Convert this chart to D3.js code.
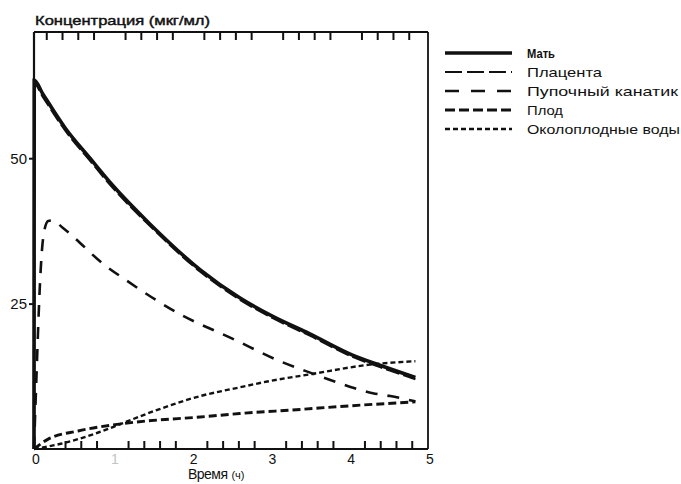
<!DOCTYPE html>
<html>
<head>
<meta charset="utf-8">
<script src="https://cdn.jsdelivr.net/npm/d3@7"></script>
<style>
  body { margin: 0; background: #fff; }
  text { font-family: Arial, "Liberation Sans", sans-serif; fill: #111; }
</style>
</head>
<body>
<svg id="chart" width="681" height="484"></svg>
<script>
// Drug concentration over time in mother and fetal compartments
const seriesNames = ["Мать", "Плацента", "Пупочный канатик", "Плод", "Околоплодные воды"];

// time (h) and concentration (µg/ml) for each compartment
const motherT = [0, 0.003, 0.11, 0.4, 0.71, 1.0, 1.47, 2.11, 2.61, 3.03, 3.5, 4.05, 4.39, 4.84];
const motherV = [0, 63.4, 61.1, 55.1, 50.0, 45.3, 38.7, 30.8, 26.0, 22.8, 19.8, 16.1, 14.4, 12.3];

const placentaT = [0, 0.003, 0.11, 0.4, 0.71, 1.0, 1.47, 2.11, 2.61, 3.03, 3.5, 4.05, 4.39, 4.84];
const placentaV = [0, 62.8, 60.6, 54.7, 49.6, 44.9, 38.4, 30.5, 25.7, 22.5, 19.5, 15.8, 14.1, 12.0];

const cordT = [0, 0.03, 0.076, 0.10, 0.13, 0.18, 0.23, 0.36, 0.49, 0.88, 1.15, 1.85, 2.53, 3.12, 3.53, 3.88, 4.3, 4.52, 4.84];
const cordV = [0, 12, 28.5, 34, 37.5, 39.2, 39.3, 38.1, 36.6, 31.8, 29.2, 23.2, 18.9, 15.1, 13.0, 11.3, 9.6, 9.1, 8.2];

const fetusT = [0, 0.18, 0.56, 0.98, 1.42, 2.11, 2.61, 3.38, 3.88, 4.84];
const fetusV = [0, 1.7, 3.1, 4.1, 4.8, 5.5, 6.1, 6.8, 7.3, 8.1];

const amnioticT = [0, 0.34, 0.77, 1.1, 1.42, 2.11, 2.61, 2.96, 3.53, 4.26, 4.84];
const amnioticV = [0, 0.9, 2.6, 4.3, 6.0, 9.1, 10.6, 11.6, 12.9, 14.5, 15.1];

const xTickLabels = ["0", "1", "2", "3", "4", "5"];
const yTickValues = [25, 50];
const yTickLabels = ["25", "50"];

const yTitle = "Концентрация (мкг/мл)";
const xTitle = "Время";
const xUnit = "(ч)";

const svg = d3.select("#chart");

const x = d3.scaleLinear().domain([0, 5]).range([34, 428]);
const y = d3.scaleLinear().domain([0, 71.7]).range([449, 32]);
const yTop = y.range()[1];

// line styles per compartment
const styles = [
  { width: 3.6, dash: null },
  { width: 2.2, dash: "14,4" },
  { width: 2.6, dash: "12,10" },
  { width: 2.9, dash: "8,4" },
  { width: 2.4, dash: "5,3" }
];
const legendDash = [null, "17,5", "14,12", "10,4", "5,3"];
const legendWidth = [3.4, 2.2, 2.5, 3, 2.4];

const series = [
  { t: motherT, v: motherV },
  { t: placentaT, v: placentaV },
  { t: cordT, v: cordV },
  { t: fetusT, v: fetusV },
  { t: amnioticT, v: amnioticV }
].map((s, i) => ({ name: seriesNames[i], style: styles[i], pts: s.t.map((t, j) => ({ t, v: s.v[j] })) }));

// frame
svg.append("line").attr("x1", x(0)).attr("x2", x(5)).attr("y1", yTop).attr("y2", yTop)
  .attr("stroke", "#111").attr("stroke-width", 1.8);
svg.append("line").attr("x1", x(5)).attr("x2", x(5)).attr("y1", yTop).attr("y2", y(0))
  .attr("stroke", "#111").attr("stroke-width", 1.8);
svg.append("line").attr("x1", x(0)).attr("x2", x(5)).attr("y1", y(0)).attr("y2", y(0))
  .attr("stroke", "#111").attr("stroke-width", 2);
svg.append("line").attr("x1", x(0)).attr("x2", x(0)).attr("y1", yTop).attr("y2", y(0))
  .attr("stroke", "#111").attr("stroke-width", 2.2);

// minor ticks every 0.2 h, pointing inside the frame
const minorT = d3.range(1, 25).filter(i => i % 5 !== 0).map(i => i / 5);

const topTicks = minorT.map(d => `M${x(d) - 3},${yTop}V${yTop + 8}`).join("");
svg.append("path").attr("d", topTicks).attr("fill", "none")
  .attr("stroke", "#111").attr("stroke-width", 2);

const bottomTicks = minorT.filter(d => d > 0.3).map(d => `M${x(d)},${y(0)}V${y(0) - 8}`).join("");
svg.append("path").attr("d", bottomTicks).attr("fill", "none")
  .attr("stroke", "#111").attr("stroke-width", 2);

// hour labels
svg.append("g").selectAll("text").data([0, 1, 2, 3, 4, 5]).join("text")
  .attr("x", d => x(d) + 2).attr("y", y(0) + 15)
  .attr("text-anchor", "middle").attr("font-size", 14)
  .style("fill", d => d === 1 ? "#c4c4c4" : "#111")
  .text((d, i) => xTickLabels[i]);

// concentration labels with short outward ticks
const yAxis = d3.axisLeft(y).tickValues(yTickValues).tickSize(5).tickPadding(2)
  .tickFormat((d, i) => yTickLabels[i]);
svg.append("g").attr("transform", `translate(${x(0)},0)`).call(yAxis)
  .call(g => g.select(".domain").remove())
  .call(g => g.selectAll("line").attr("stroke", "#111").attr("stroke-width", 2))
  .call(g => g.selectAll("text").attr("font-size", 15).attr("font-family", "Arial, sans-serif").style("fill", "#111"));

// curves
const line = d3.line().x(d => x(d.t)).y(d => y(d.v)).curve(d3.curveMonotoneX);
const drawOrder = [4, 3, 2, 1, 0];
drawOrder.forEach(i => {
  const s = series[i];
  svg.append("path").datum(s.pts)
    .attr("d", line)
    .attr("fill", "none")
    .attr("stroke", "#111")
    .attr("stroke-width", s.style.width)
    .attr("stroke-dasharray", s.style.dash)
    .attr("stroke-linecap", "butt");
});

// titles
svg.append("text").attr("x", 35).attr("y", 25).attr("font-size", 13.5)
  .attr("stroke", "#111").attr("stroke-width", 0.45)
  .attr("textLength", 175).attr("lengthAdjust", "spacingAndGlyphs").text(yTitle);

const xt = svg.append("text").attr("x", 188).attr("y", 479).attr("font-size", 14);
xt.append("tspan").attr("textLength", 40).text(xTitle);
xt.append("tspan").attr("dx", 4).attr("font-size", 11).text(xUnit);

// legend
const legendRows = d3.scaleLinear().domain([0, 4]).range([53, 129]);
const legendTextW = [28, 75, 151, 36, 153];
series.forEach((s, i) => {
  const yy = legendRows(i);
  svg.append("line").attr("x1", 445).attr("x2", 512).attr("y1", yy).attr("y2", yy)
    .attr("stroke", "#111").attr("stroke-width", legendWidth[i])
    .attr("stroke-dasharray", legendDash[i]);
  svg.append("text").attr("x", 527).attr("y", yy + 5)
    .attr("font-size", 13.5).attr("font-weight", i === 0 ? "bold" : "normal")
    .attr("textLength", legendTextW[i]).attr("lengthAdjust", "spacingAndGlyphs")
    .text(s.name);
});
</script>
</body>
</html>
